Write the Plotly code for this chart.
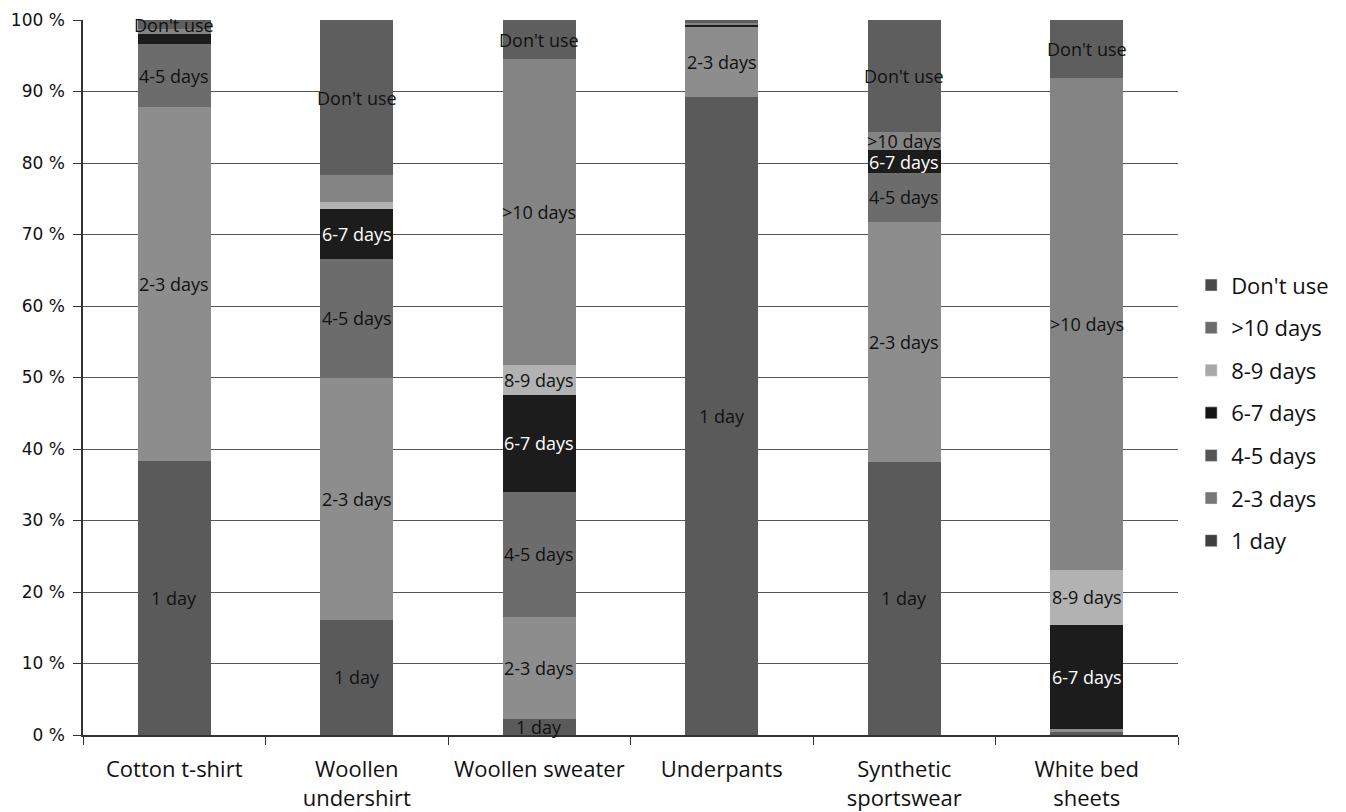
import plotly.graph_objects as go
import numpy as np

categories = ["Cotton t-shirt", "Woollen<br>undershirt", "Woollen sweater",
              "Underpants", "Synthetic<br>sportswear", "White bed<br>sheets"]

series_names = ["1 day", "2-3 days", "4-5 days", "6-7 days", "8-9 days", ">10 days", "Don't use"]

one_day   = [38.3, 16.1, 2.2, 89.3, 38.2, 0.4]
two_three = [49.5, 33.9, 14.3, 9.7, 33.6, 0.5]
four_five = [8.8, 16.6, 17.5, 0.0, 6.8, 0.0]
six_seven = [1.4, 7.0, 13.6, 0.3, 3.2, 14.5]
eight_nine = [0.0, 0.9, 4.1, 0.0, 0.0, 7.7]
over_ten  = [0.7, 3.8, 42.8, 0.3, 2.6, 68.8]
dont_use  = [1.3, 21.7, 5.5, 0.4, 15.6, 8.1]

series_values = [one_day, two_three, four_five, six_seven, eight_nine, over_ten, dont_use]

# which segments carry a label (per series, per category)
show_label = [
    [1, 1, 1, 1, 1, 0],
    [1, 1, 1, 1, 1, 0],
    [1, 1, 1, 0, 1, 0],
    [0, 1, 1, 0, 1, 1],
    [0, 0, 1, 0, 0, 1],
    [0, 0, 1, 0, 1, 1],
    [1, 1, 1, 0, 1, 1],
]

colors = ["#5a5a5a", "#8d8d8d", "#6c6c6c", "#1c1c1c", "#b2b2b2", "#848484", "#5e5e5e"]
legend_colors = ["#404040", "#777777", "#555555", "#151515", "#a8a8a8", "#6a6a6a", "#4a4a4a"]
label_colors = ["#111111", "#111111", "#111111", "#ffffff", "#111111", "#111111", "#111111"]

y_ticks = list(range(0, 101, 10))
y_tick_text = [f"{v} %" for v in y_ticks]

fig = go.Figure()
for name, vals, col in zip(series_names, series_values, colors):
    fig.add_trace(go.Bar(
        x=categories, y=vals, name=name,
        marker=dict(color=col, line=dict(width=0)),
        showlegend=False,
    ))

# legend entries, top-down from "Don't use" to "1 day", one group each for spacing
for name, col in reversed(list(zip(series_names, legend_colors))):
    fig.add_trace(go.Bar(x=[None], y=[None], name=name, legendgroup=name,
                         marker=dict(color=col), showlegend=True))

# segment labels at the centre of each stacked segment
data = np.array(series_values)
tops = np.cumsum(data, axis=0)
bottoms = tops - data
annotations = []
for si, name in enumerate(series_names):
    for ci, cat in enumerate(categories):
        if show_label[si][ci]:
            annotations.append(dict(
                x=cat, y=(tops[si, ci] + bottoms[si, ci]) / 2,
                text=name, showarrow=False,
                font=dict(family="Open Sans", size=18, color=label_colors[si]),
            ))

fig.update_layout(
    width=1346, height=812,
    barmode="stack", bargap=0.6,
    plot_bgcolor="white", paper_bgcolor="white",
    margin=dict(l=83, r=164, t=20, b=77),
    annotations=annotations,
    legend=dict(
        x=1.012, xanchor="left", y=0.45, yanchor="middle",
        traceorder="grouped", tracegroupgap=11,
        font=dict(family="Open Sans", size=22, color="#111111"),
        itemwidth=30,
    ),
    xaxis=dict(
        automargin=False,
        tickson="boundaries", ticks="outside", ticklen=8, tickcolor="#333",
        showline=True, linecolor="#333", linewidth=1.5,
        ticklabelstandoff=14,
        tickfont=dict(family="Open Sans", size=22, color="#111111"),
    ),
    yaxis=dict(
        automargin=False,
        range=[0, 100], tickvals=y_ticks, ticktext=y_tick_text,
        ticks="outside", ticklen=8, tickcolor="#333",
        showline=True, linecolor="#333", linewidth=1.5,
        showgrid=True, gridcolor="#555555", gridwidth=1.3,
        ticklabelstandoff=5,
        tickfont=dict(family="DejaVu Sans", size=17, color="#111111"),
    ),
)

fig.write_html("out.html")
